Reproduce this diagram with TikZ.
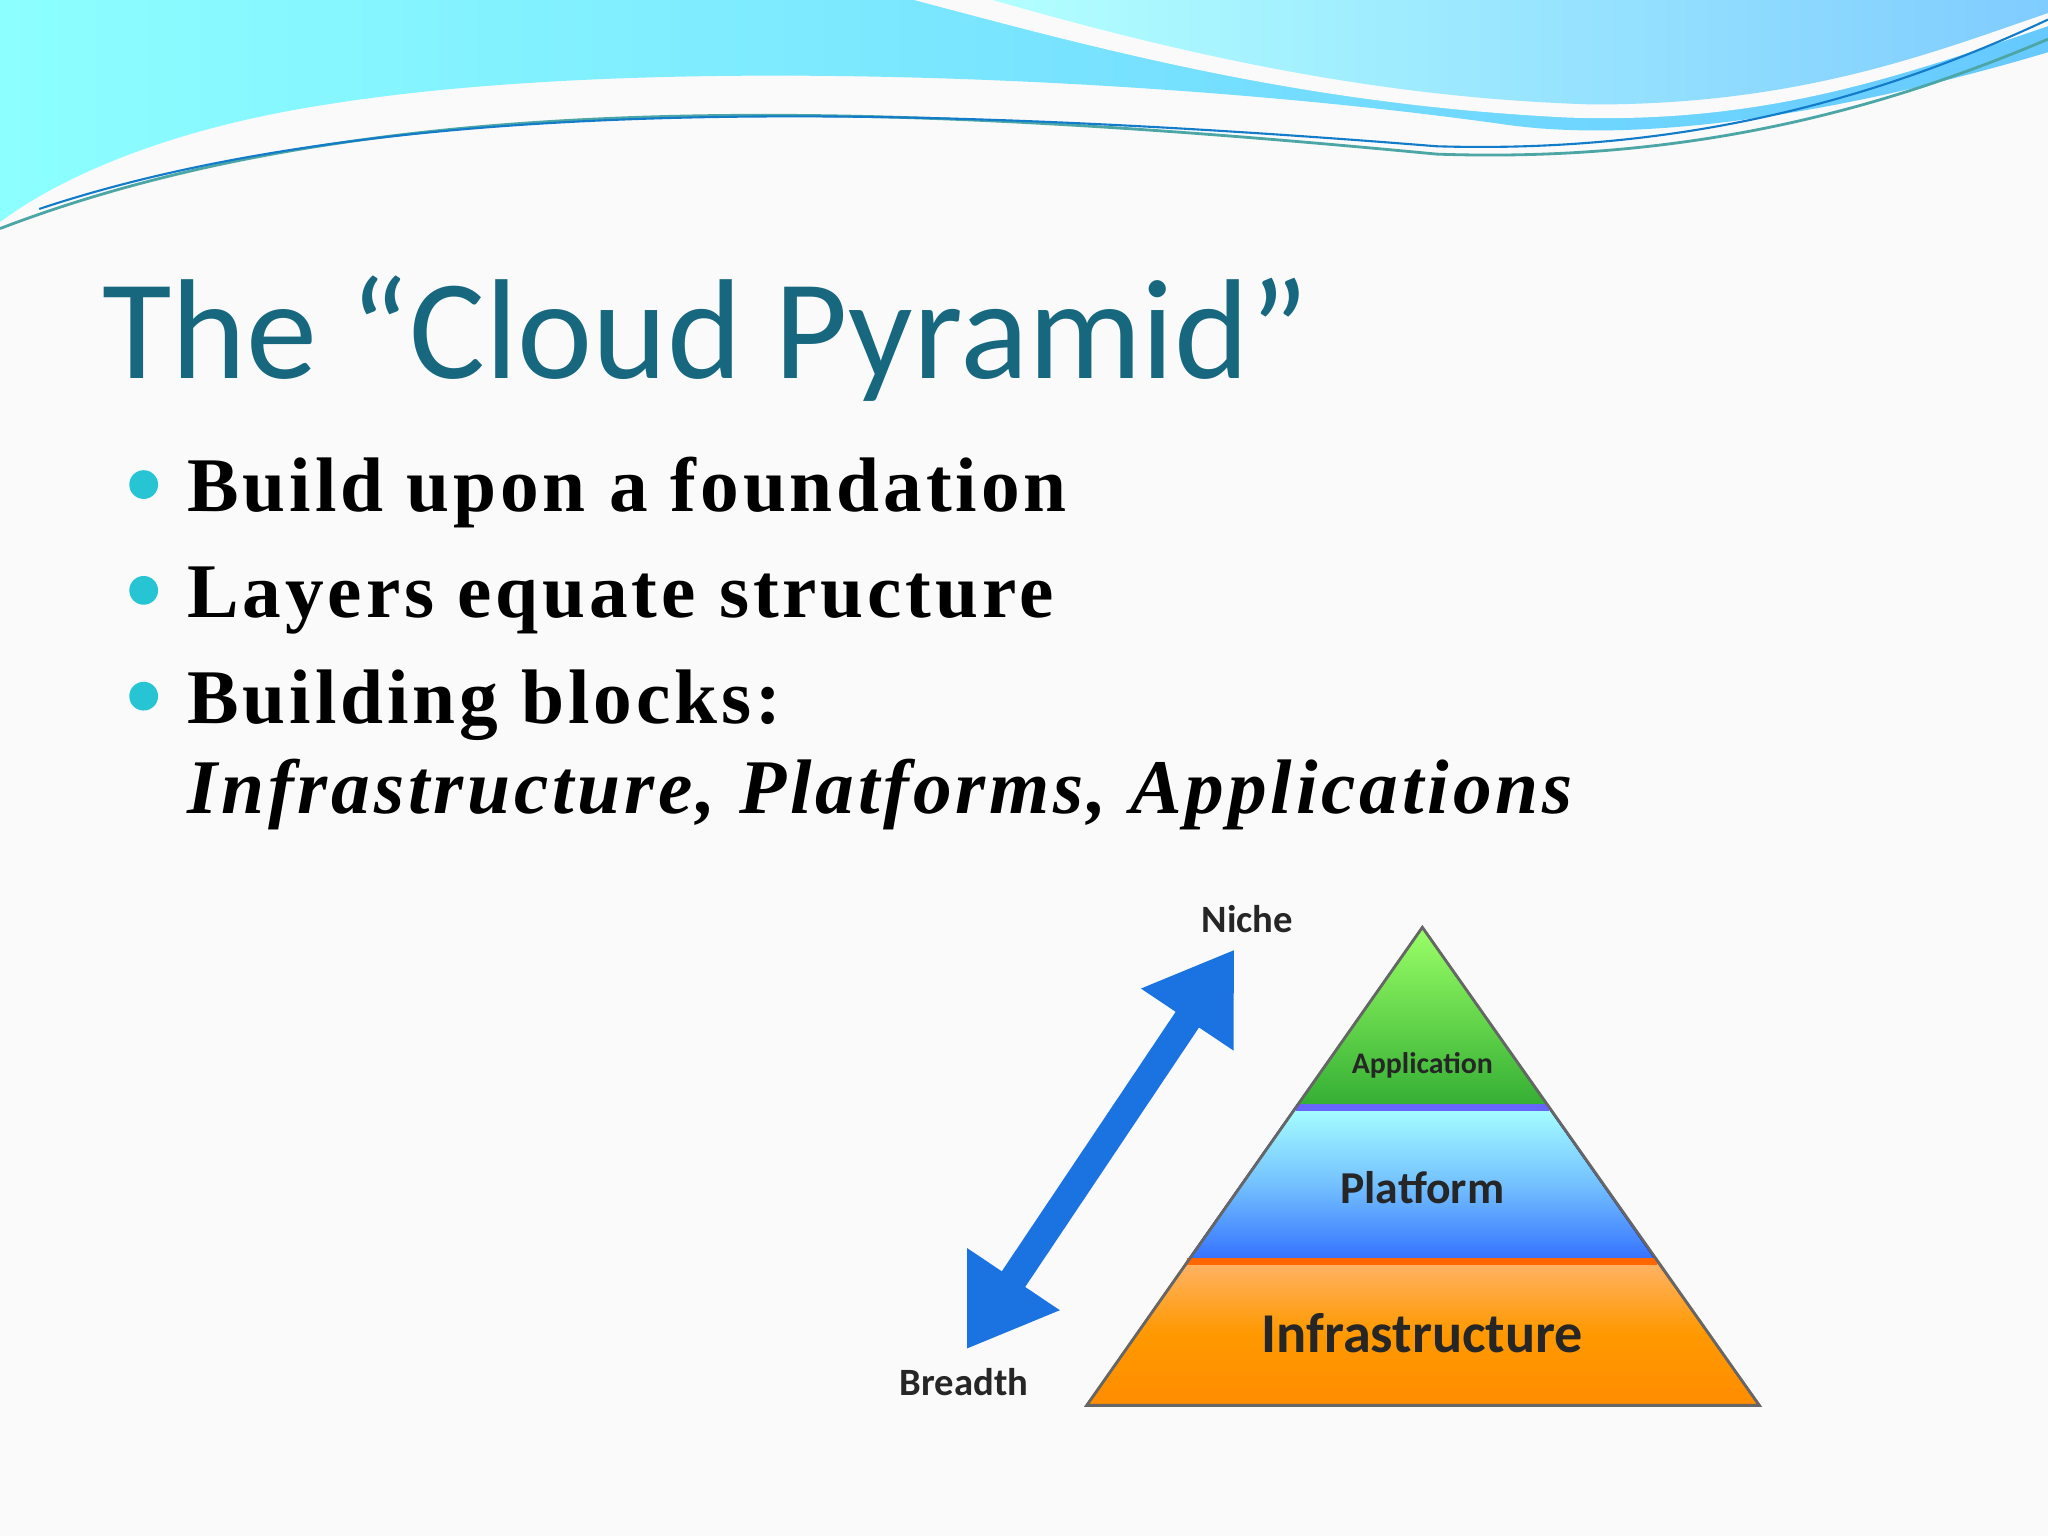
\documentclass[tikz,border=0pt]{standalone}
\usepackage{fontspec}
\setmainfont{Liberation Serif}[LetterSpace=5]
\newfontfamily\carl{Carlito}
\usetikzlibrary{arrows.meta}
\definecolor{titlec}{HTML}{17687F}
\definecolor{bul}{HTML}{27C4D4}
\definecolor{arr}{HTML}{1A73E0}
\begin{document}
\begin{tikzpicture}[x=0.01306cm,y=-0.01306cm,
  lay/.style={draw=#1!70!black, line width=0.6pt},
  lbl/.style={font=\carl\bfseries, text=black!85}]
\useasboundingbox (0,0) rectangle (1568,1176);
\fill[white!96!gray] (0,0) rectangle (1568,1176);
% top waves
\shade[left color=cyan!45!white, right color=blue!35!cyan!60!white]
  (0,0) -- (1568,0) -- (1568,40) .. controls (1400,90) and (1250,110) .. (1150,95)
  .. controls (900,60) and (500,40) .. (250,80) .. controls (120,100) and (40,140) .. (0,170) -- cycle;
\fill[white!96!gray] (700,0) .. controls (850,40) and (1000,80) .. (1200,90) .. controls (1350,95) and (1450,60) .. (1568,20) -- (1568,0) -- cycle;
\shade[left color=cyan!30!white, right color=cyan!60!blue!50!white]
  (760,0) .. controls (900,40) and (1050,75) .. (1220,80) .. controls (1380,80) and (1480,40) .. (1568,10) -- (1568,0) -- cycle;
\draw[teal!70, line width=0.8pt] (0,175) .. controls (300,60) and (700,80) .. (1100,118) .. controls (1300,125) and (1450,80) .. (1568,30);
\draw[cyan!60!blue, line width=0.6pt] (30,160) .. controls (300,70) and (700,80) .. (1100,112) .. controls (1300,118) and (1450,70) .. (1568,15);
% title
\node[anchor=base west, inner sep=0, text=titlec, font=\carl\fontsize{40.5}{48}\selectfont] (title) at (78,290) {The “Cloud Pyramid”};
% bullets
\foreach \y in {375,456,537}{\fill[bul] (110,\y-4) circle (11);}
\tikzset{bt/.style={anchor=base west, inner sep=0, font=\bfseries\fontsize{22}{26}\selectfont}}
\node[bt] (b1) at (143,392) {Build upon a foundation};
\node[bt] (b2) at (143,473) {Layers equate structure};
\node[bt] (b3) at (143,554) {Building blocks:};
\node[bt, font=\bfseries\itshape\fontsize{22}{26}\selectfont] (b4) at (143,623) {Infrastructure, Platforms, Applications};
% pyramid
\shade[top color=green!55!lime!60!white, bottom color=green!60!black!80, lay=green] (1089,710) -- (1186,848) -- (992,848) -- cycle;
\shade[top color=cyan!35!white, bottom color=blue!70!cyan!80, middle color=cyan!55!blue!55, lay=blue] (992,848) -- (1186,848) -- (1269,966) -- (909,966) -- cycle;
\shade[top color=orange!60!white, bottom color=orange!90!yellow, middle color=orange!80!yellow, lay=orange] (909,966) -- (1269,966) -- (1347,1076) -- (832,1076) -- cycle;
\draw[blue!60, line width=2pt] (992,848) -- (1186,848);
\draw[orange!80!red, line width=2pt] (909,966) -- (1269,966);
\draw[black!60, line width=0.8pt] (1089,710) -- (1347,1076) -- (832,1076) -- cycle;
\node[lbl, font=\carl\bfseries\fontsize{8.5}{10}\selectfont] (app) at (1089,816) {Application};
\node[lbl, font=\carl\bfseries\fontsize{13}{15}\selectfont] (plat) at (1089,909) {Platform};
\node[lbl, font=\carl\bfseries\fontsize{16}{19}\selectfont] (infra) at (1089,1021) {Infrastructure};
% arrow
\node[lbl, font=\carl\bfseries\fontsize{11}{13}\selectfont] (niche) at (955,704) {Niche};
\node[lbl, font=\carl\bfseries\fontsize{11}{13}\selectfont] (breadth) at (738,1058) {Breadth};
\coordinate (t) at (945,727);
\coordinate (s) at (740,1033);
\draw[arr, line width=8pt, {Triangle[width=30pt,length=24pt]}-{Triangle[width=30pt,length=24pt]}] (s) -- (t);
\end{tikzpicture}
\end{document}
